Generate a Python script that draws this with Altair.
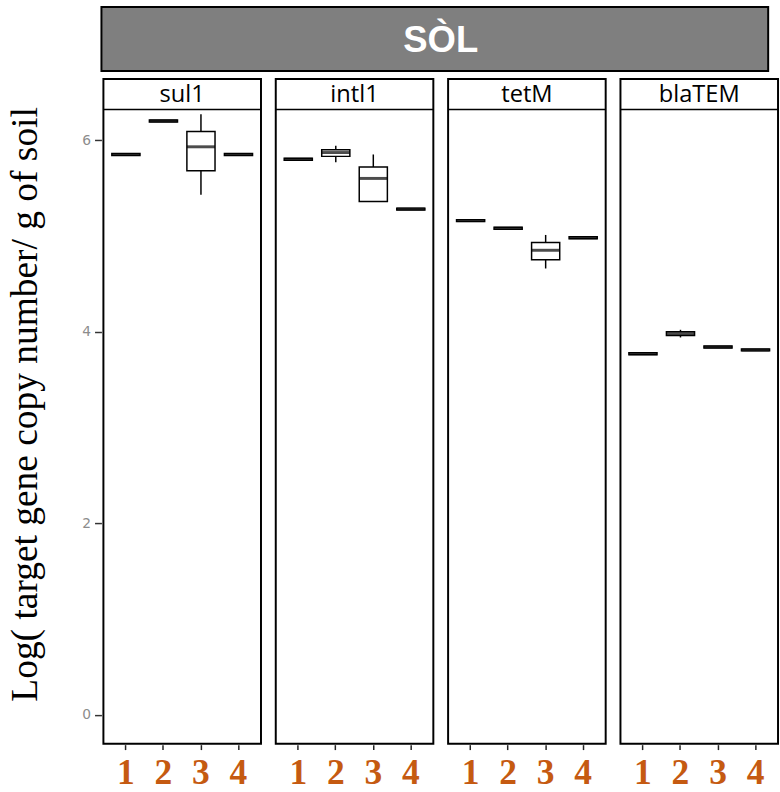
import altair as alt
import pandas as pd

# Genes (facet panels) and sampling points (x categories)
genes = ["sul1", "intl1", "tetM", "blaTEM"]
points = ["1", "2", "3", "4"]

# Box-plot summaries per gene, one entry per sampling point
whisker_lo = {
    "sul1":   [5.84, 6.19, 5.43, 5.84],
    "intl1":  [5.79, 5.77, 5.36, 5.27],
    "tetM":   [5.15, 5.07, 4.66, 4.97],
    "blaTEM": [3.76, 3.94, 3.83, 3.80],
}
q1 = {
    "sul1":   [5.84, 6.19, 5.68, 5.84],
    "intl1":  [5.79, 5.83, 5.36, 5.27],
    "tetM":   [5.15, 5.07, 4.75, 4.97],
    "blaTEM": [3.76, 3.96, 3.83, 3.80],
}
median = {
    "sul1":   [5.85, 6.20, 5.93, 5.85],
    "intl1":  [5.80, 5.87, 5.60, 5.28],
    "tetM":   [5.16, 5.08, 4.85, 4.98],
    "blaTEM": [3.77, 3.98, 3.84, 3.81],
}
q3 = {
    "sul1":   [5.86, 6.21, 6.09, 5.86],
    "intl1":  [5.81, 5.90, 5.72, 5.29],
    "tetM":   [5.17, 5.09, 4.93, 4.99],
    "blaTEM": [3.78, 4.00, 3.85, 3.82],
}
whisker_hi = {
    "sul1":   [5.86, 6.21, 6.27, 5.86],
    "intl1":  [5.81, 5.94, 5.85, 5.29],
    "tetM":   [5.17, 5.09, 5.01, 4.99],
    "blaTEM": [3.78, 4.02, 3.85, 3.82],
}

y_ticks = [0, 2, 4, 6]
y_title = "Log( target gene copy number/ g of soil"
banner_label = "SÒL"

rows = []
for g in genes:
    for i, p in enumerate(points):
        rows.append({
            "gene": g, "point": p,
            "lo": whisker_lo[g][i], "q1": q1[g][i], "med": median[g][i],
            "q3": q3[g][i], "hi": whisker_hi[g][i],
        })
df = pd.DataFrame(rows)

PANEL_W = 160
STRIP_H = 31
PANEL_H = 675
GAP = 11
ORANGE = "#C55A11"

x_enc = alt.X(
    "point:N",
    sort=points,
    scale=alt.Scale(paddingInner=0, paddingOuter=0.1),
    axis=alt.Axis(
        title=None, labelAngle=0, domain=False,
        labelFont="Liberation Serif", labelFontSize=36, labelFontWeight="bold",
        labelColor=ORANGE, labelPadding=6,
        tickColor="#222", tickSize=5, tickWidth=1.5,
    ),
)

y_scale = alt.Scale(domain=[-0.3, 6.32], range=[PANEL_H, STRIP_H], nice=False, zero=False)
y_axis = alt.Axis(
    values=y_ticks, title=y_title, grid=False, domain=False,
    labelFont="DejaVu Sans", labelFontSize=14, labelColor="#8c8c8c", labelPadding=4,
    tickColor="#333", tickSize=7, tickWidth=1.5,
    titleFont="Liberation Serif", titleFontSize=38, titleFontWeight="normal",
    titleColor="black", titlePadding=38, titleY=330,
)

base = alt.Chart(df)

whiskers = base.mark_rule(color="black", strokeWidth=1.5).encode(
    x=x_enc,
    y=alt.Y("lo:Q", scale=y_scale, axis=y_axis),
    y2="hi:Q",
)

boxes = base.mark_bar(
    width=alt.RelativeBandSize(0.75), fill="white", stroke="black", strokeWidth=1.5
).encode(
    x=x_enc,
    y=alt.Y("q1:Q", scale=y_scale, axis=y_axis),
    y2="q3:Q",
)

medians = base.mark_tick(
    orient="horizontal", size=28.5, thickness=3, color="black"
).encode(
    x=x_enc,
    y=alt.Y("med:Q", scale=y_scale, axis=y_axis),
)

# Gene name strip at the top of every panel
strip_line = base.mark_rule(color="black", strokeWidth=1.5).encode(
    x=alt.value(0), x2=alt.value(PANEL_W), y=alt.value(STRIP_H)
).transform_filter(alt.datum.point == "1")

strip_text = base.mark_text(
    font="Open Sans", fontSize=24, color="black", baseline="middle"
).encode(
    text="gene:N", x=alt.value(PANEL_W / 2), y=alt.value(STRIP_H / 2 + 1)
).transform_filter(alt.datum.point == "1")

panels = alt.layer(whiskers, boxes, medians, strip_line, strip_text).properties(
    width=PANEL_W, height=PANEL_H
).facet(
    column=alt.Column("gene:N", sort=genes, header=alt.Header(labels=False, title=None)),
    spacing=GAP,
)

total_w = 4 * PANEL_W + 3 * GAP
banner_df = pd.DataFrame({"label": [banner_label]})
banner_box = alt.Chart(banner_df).mark_rect(
    fill="#7f7f7f", stroke="black", strokeWidth=2
).encode(
    x=alt.value(-2), x2=alt.value(total_w + 2), y=alt.value(0), y2=alt.value(65)
)
banner_text = alt.Chart(banner_df).mark_text(
    font="Liberation Sans", fontSize=37, fontWeight="bold", color="white",
    baseline="middle", dx=6
).encode(
    text="label:N", x=alt.value(total_w / 2), y=alt.value(35)
)
banner = alt.layer(banner_box, banner_text).properties(
    width=total_w, height=65, view=alt.ViewConfig(strokeWidth=0)
)

chart = alt.vconcat(banner, panels, spacing=8, bounds="flush").properties(
    padding={"top": 0, "left": 7, "right": 0, "bottom": 0},
    background="white",
).configure_view(
    stroke="black", strokeWidth=2
)

chart.save("out.html", embed_options={"renderer": "svg", "actions": False})
